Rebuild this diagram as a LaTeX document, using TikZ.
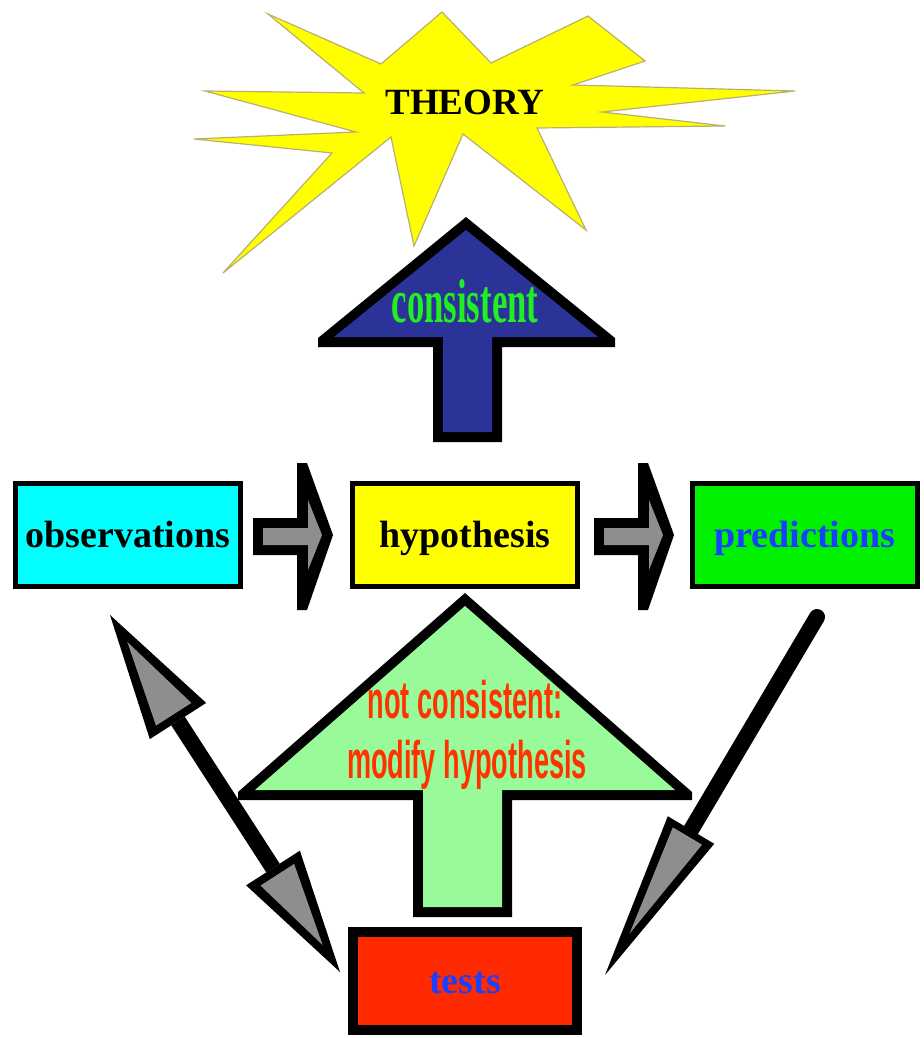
\documentclass[tikz,border=0pt]{standalone}
\usepackage{fontspec}
\setmainfont{Liberation Serif}
\newfontfamily\redsans{Liberation Sans}
\usetikzlibrary{calc}
\definecolor{staryellow}{HTML}{FFFF00}
\definecolor{staredge}{HTML}{B8B070}
\definecolor{arrowblue}{HTML}{2B3399}
\definecolor{textgreen}{HTML}{22EE22}
\definecolor{lightgreen}{HTML}{99FA99}
\definecolor{textred}{HTML}{FF3300}
\definecolor{obscyan}{HTML}{00FFFF}
\definecolor{hypyellow}{HTML}{FFFF00}
\definecolor{predgreen}{HTML}{00F000}
\definecolor{textblue}{HTML}{1A40FF}
\definecolor{testred}{HTML}{FF2A00}
\definecolor{arrowgray}{HTML}{8E8E8E}
\newcommand{\spearhead}[6]{%
  \fill[black] (#1) -- ($(#2)!#3!90:(#1)$) -- ($(#2)!#3!-90:(#1)$) -- cycle;
  \coordinate (ibk) at ($(#2)!#5!(#1)$);
  \coordinate (itp) at ($(#1)!#4!(#2)$);
  \fill[arrowgray] (itp) -- ($(ibk)!#6!90:(#1)$) -- ($(ibk)!#6!-90:(#1)$) -- cycle;
}
\begin{document}
\begin{tikzpicture}[x=0.5pt,y=-0.5pt,
  box/.style={draw=black,line width=2.5pt,minimum width=112.5pt,minimum height=51.5pt,
    inner sep=0pt,text height=12pt,text depth=0pt,
    font=\fontsize{19pt}{19pt}\selectfont\bfseries},
  redtext/.style={anchor=base,inner sep=0pt,text=textred,
    font=\fontsize{23pt}{26pt}\selectfont\redsans\bfseries}]
\useasboundingbox (0,0) rectangle (924,1038);

% THEORY star
\draw[fill=staryellow,draw=staredge,line width=0.6pt]
  (268,14) -- (381,64) -- (442,12) -- (491,63) -- (588,16) -- (645,61) -- (573,85)
  -- (795,91) -- (602,112) -- (725,126) -- (537,128) -- (586,230) -- (463,134)
  -- (414,246) -- (391,137) -- (223,273) -- (332,153) -- (194,139) -- (356,132)
  -- (205,91) -- (364,93) -- cycle;
\node[inner sep=0pt,font=\fontsize{18.5pt}{18.5pt}\selectfont\bfseries] (theory) at (465,102) {THEORY};

% consistent arrow (blue)
\fill[black] (466,217) -- (615,338) -- (615,347) -- (502,347) -- (502,442) -- (433,442)
  -- (433,347) -- (318,347) -- (318,338) -- cycle;
\fill[arrowblue] (466,230) -- (598,337) -- (492,337) -- (492,432) -- (443,432)
  -- (443,337) -- (334,337) -- cycle;
\node[anchor=base,inner sep=0pt,text=textgreen,font=\fontsize{31pt}{31pt}\selectfont\bfseries]
  (cons) at (465,322) {\scalebox{0.56}[1]{consistent}};

% boxes
\node[box,fill=obscyan] (obs) at (128,535) {observations};
\node[box,fill=hypyellow] (hyp) at (465,535) {hypothesis};
\node[box,fill=predgreen,text=textblue] (pred) at (805,535) {predictions};

% gray block arrows between boxes
\foreach \dx in {0,341}{
  \begin{scope}[shift={(\dx,0)}]
    \fill[black] (253,518) -- (297,518) -- (297,463) -- (307,463) -- (333,535) -- (307,610)
      -- (297,610) -- (297,555) -- (253,555) -- cycle;
    \fill[arrowgray] (263,528) -- (308,528) -- (308,500) -- (322,535) -- (308,570)
      -- (308,545) -- (263,545) -- cycle;
  \end{scope}
}

% not consistent arrow (light green)
\fill[black] (465,593) -- (692,792) -- (692,800) -- (512,800) -- (512,917) -- (413,917)
  -- (413,800) -- (238,800) -- (238,792) -- cycle;
\fill[lightgreen] (465,606) -- (675,790) -- (502,790) -- (502,907) -- (423,907)
  -- (423,790) -- (255,790) -- cycle;
\node[redtext] (nc1) at (465,718) {\scalebox{0.59}[1.15]{not consistent:}};
\node[redtext] (nc2) at (467,778) {\scalebox{0.59}[1.15]{modify hypothesis}};

% tests box
\node[box,draw=black,line width=5pt,minimum width=112pt,minimum height=49pt,
  fill=testred,text=textblue] (tests) at (465,981) {tests};

% double arrow observations <-> tests
\coordinate (A1) at (110,615);
\coordinate (B1) at (178,721);
\coordinate (A2) at (340,972);
\coordinate (B2) at (273,868);
\draw[line width=8pt,black] (B1) -- (B2);
\spearhead{A1}{B1}{16.75pt}{16pt}{4pt}{10.5pt}
\spearhead{A2}{B2}{16pt}{16pt}{4pt}{10pt}

% arrow predictions -> tests
\coordinate (S3) at (817,617);
\coordinate (B3) at (691,830);
\coordinate (A3) at (605,975);
\draw[line width=8pt,black,line cap=round] (S3) -- (B3);
\spearhead{A3}{B3}{13.5pt}{24pt}{3.5pt}{8.5pt}
\end{tikzpicture}
\end{document}
